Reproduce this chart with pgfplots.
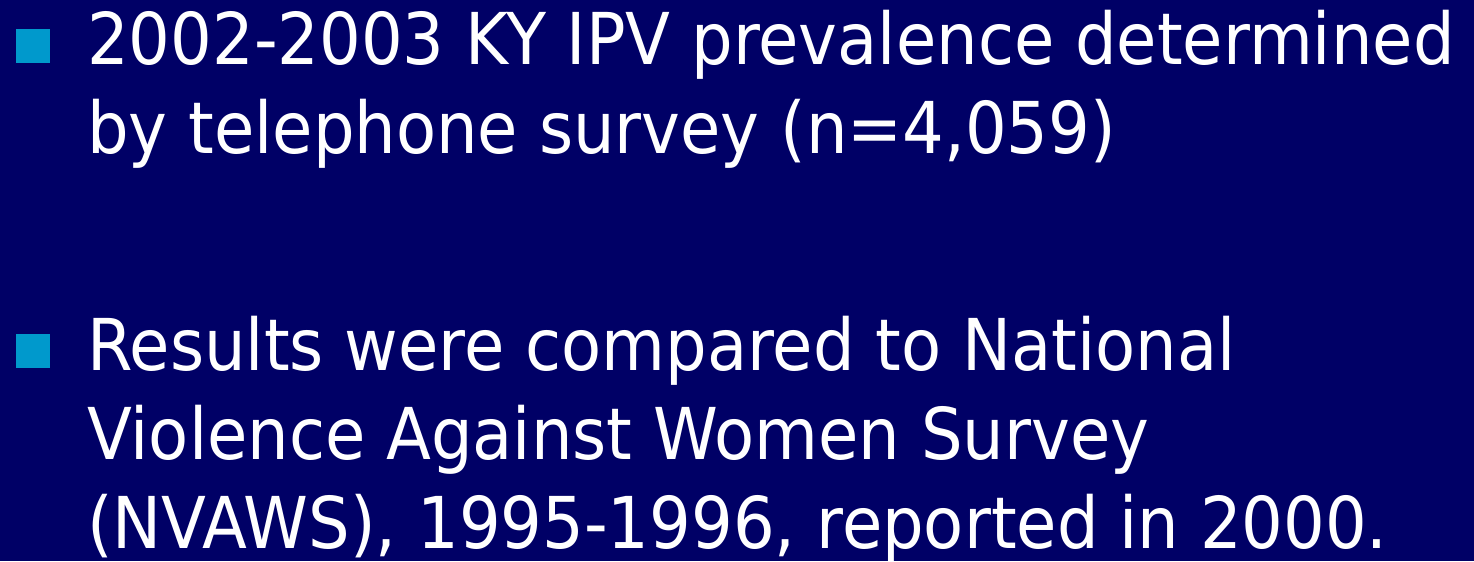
\documentclass[border=0pt]{standalone}
\usepackage{pgfplots}
\pgfplotsset{compat=1.18}
\usepackage{graphicx}
\usepackage{fontspec}
\setmainfont{DejaVu Sans}
\definecolor{slidebg}{RGB}{0,0,102}
\definecolor{bulletc}{RGB}{0,153,204}
\newcommand{\slidefont}{\fontsize{71.5bp}{90bp}\selectfont}
\newcommand{\slline}[1]{\scalebox{0.917}[1]{#1}}
\begin{document}
\begin{tikzpicture}
\begin{axis}[
  width=1474bp, height=561bp, scale only axis,
  xmin=0, xmax=1474, ymin=0, ymax=561,
  axis lines=none, ticks=none,
  axis background/.style={fill=slidebg},
  clip=false,
]
\addplot[only marks, mark=square*, mark size=16.5bp, color=bulletc, draw=bulletc] coordinates {(32.5,515.5) (32.5,210.5)};
\node[anchor=base west, inner sep=0pt, text=white, font=\slidefont] at (axis cs:87,496) {\slline{2002-2003 KY IPV prevalence determined}};
\node[anchor=base west, inner sep=0pt, text=white, font=\slidefont] at (axis cs:87,407) {\slline{by telephone survey (n=4,059)}};
\node[anchor=base west, inner sep=0pt, text=white, font=\slidefont] at (axis cs:87,191) {\slline{Results were compared to National}};
\node[anchor=base west, inner sep=0pt, text=white, font=\slidefont] at (axis cs:87,102) {\slline{Violence Against Women Survey}};
\node[anchor=base west, inner sep=0pt, text=white, font=\slidefont] at (axis cs:87,13) {\slline{(NVAWS), 1995-1996, reported in 2000.}};
\end{axis}
\pgfresetboundingbox
\path (current axis.south west) rectangle (current axis.north east);
\end{tikzpicture}
\end{document}
